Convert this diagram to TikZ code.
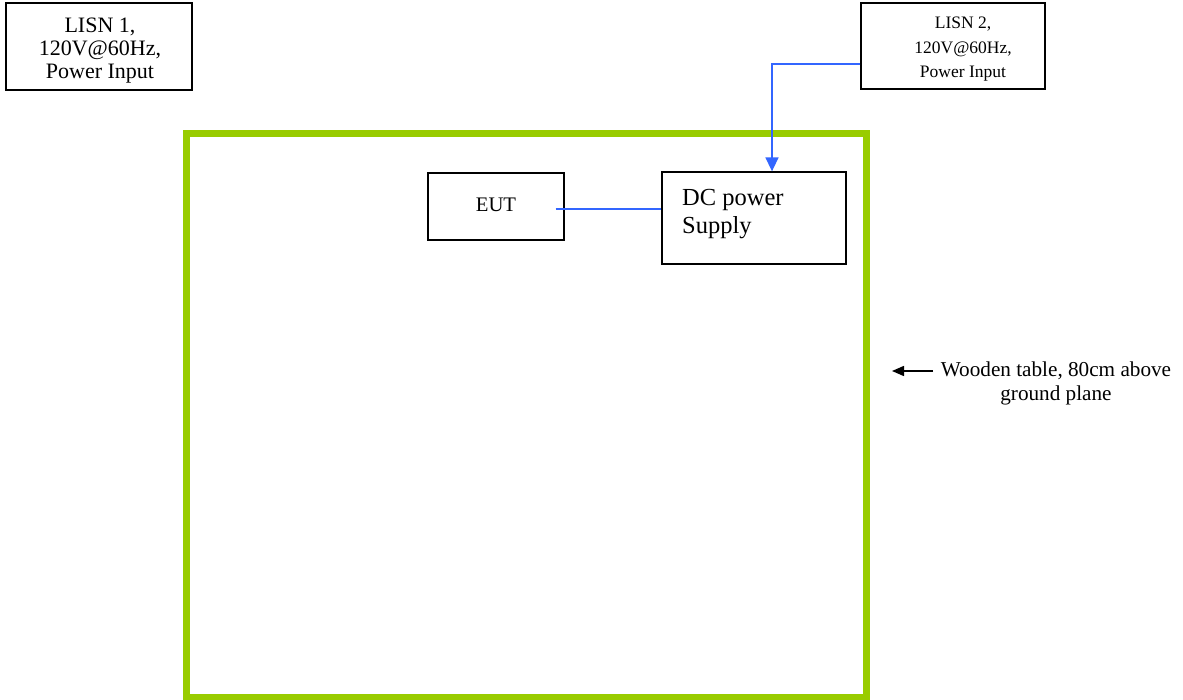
\documentclass[tikz,border=0pt]{standalone}
\usepackage{fontspec}
\setmainfont{Liberation Serif}
\usetikzlibrary{arrows.meta,calc}
\definecolor{tablegreen}{RGB}{153,204,0}
\definecolor{wireblue}{RGB}{51,102,255}
\tikzset{
  box/.style={draw=black,line width=1.3pt,inner sep=0pt,minimum width=#1},
  txt/.style={inner sep=0pt,align=center},
  wire/.style={draw=wireblue,line width=1.6pt},
}
\begin{document}
\begin{tikzpicture}[x=1pt,y=-1pt]
\useasboundingbox (0,0) rectangle (1183,700);
% table
\draw[tablegreen,line width=7pt] (186.5,133.5) rectangle (866,697);
% boxes
\node[box=186pt,minimum height=87pt] (lisn1) at (99,46.5) {};
\node[box=184pt,minimum height=86pt] (lisn2) at (953,46) {};
\node[box=136pt,minimum height=67pt] (eut) at (496,206.5) {};
\node[box=184pt,minimum height=92pt] (dc) at (754,218) {};
% texts
\node[txt,anchor=north,font=\fontsize{22}{23}\selectfont] (t1) at (100,17.5) {LISN 1,\\120V@60Hz,\\Power Input};
\node[txt,anchor=north,font=\fontsize{17.5}{24.5}\selectfont] (t2) at (963,17) {LISN 2,\\120V@60Hz,\\Power Input};
\node[inner sep=0pt,anchor=base,font=\fontsize{20.7}{24}\selectfont] (teut) at (496,212) {EUT};
\node[inner sep=0pt,align=left,anchor=north west,font=\fontsize{24.5}{28}\selectfont] (tdc) at (682,189) {DC power\\Supply};
\node[txt,anchor=north,font=\fontsize{21.2}{24}\selectfont] (wood) at (1056,361.5) {Wooden table, 80cm above\\ground plane};
% connectors
\draw[wire,-{Triangle[length=14pt,width=13pt]}] ([yshift=-18pt]lisn2.west) -| ([xshift=18pt]dc.north);
\draw[wire] ([xshift=-9pt,yshift=-2.5pt]eut.east) coordinate (e1) -- (e1 -| dc.west);
\coordinate (wtip) at (892,371);
\draw[line width=1.5pt,-{Triangle[length=12pt,width=10pt]}] ($(wtip)+(41,0)$) -- (wtip);
\end{tikzpicture}
\end{document}
